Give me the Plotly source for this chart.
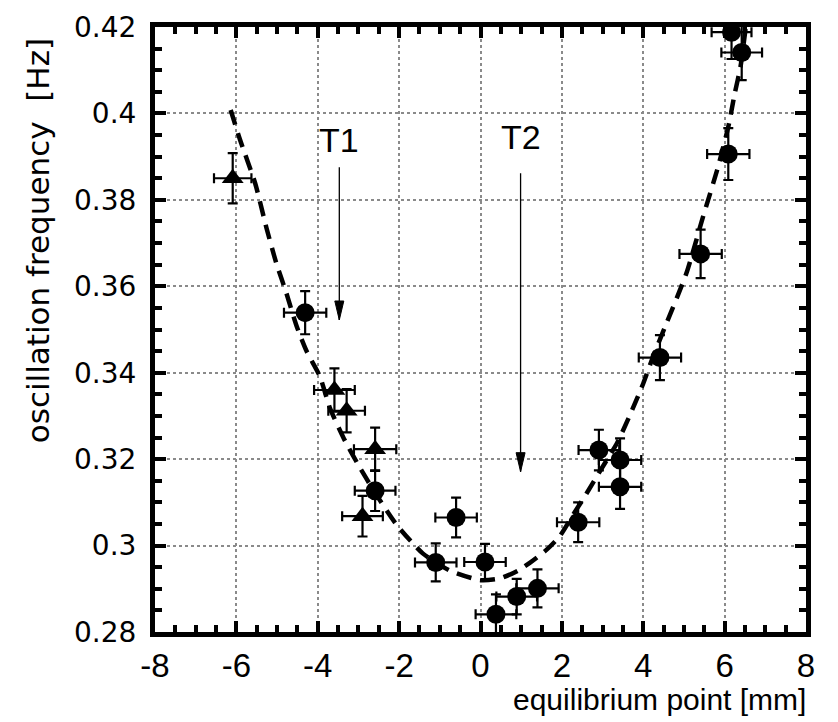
import plotly.graph_objects as go

# ---- data ----
tri_x = [-6.09, -3.59, -3.29, -2.59, -2.90]
tri_y = [0.3850, 0.3360, 0.3312, 0.3223, 0.3068]
tri_ex = [0.46, 0.50, 0.45, 0.52, 0.50]
tri_ey = [0.0058, 0.0050, 0.0050, 0.0050, 0.0047]

circ_x = [-4.31, -2.59, -0.60, -1.10, 0.11, 0.38, 0.89, 1.40, 2.40, 2.91, 3.43, 3.43, 4.41, 5.41, 6.09, 6.42, 6.17]
circ_y = [0.3539, 0.3127, 0.3065, 0.2961, 0.2962, 0.2841, 0.2882, 0.2901, 0.3054, 0.3221, 0.3198, 0.3136,
          0.3435, 0.3675, 0.3906, 0.4141, 0.4188]
circ_ex = [0.52, 0.50, 0.51, 0.51, 0.51, 0.50, 0.50, 0.52, 0.52, 0.50, 0.52, 0.52, 0.52, 0.52, 0.52, 0.50, 0.49]
circ_ey = [0.0050, 0.0047, 0.0046, 0.0044, 0.0042, 0.0046, 0.0041, 0.0044, 0.0046, 0.0047, 0.0050, 0.0051,
           0.0052, 0.0056, 0.0060, 0.0064, 0.0062]

fit_x = [-6.14, -5.91, -5.54, -5.26, -5.02, -4.77, -4.52, -4.27, -3.95, -3.70, -3.36, -3.00, -2.59, -2.06,
         -1.42, -0.75, 0.00, 0.48, 0.92, 1.21, 1.62, 1.95, 2.30, 2.61, 2.98, 3.36, 3.71, 4.00, 4.24, 4.53,
         5.06, 5.47, 5.84, 6.09, 6.25, 6.39, 6.52]
fit_y = [0.4008, 0.3939, 0.3839, 0.3735, 0.3654, 0.3584, 0.3508, 0.3449, 0.3392, 0.3318, 0.3248, 0.3186,
         0.3122, 0.3048, 0.2982, 0.2942, 0.2920, 0.2924, 0.2942, 0.2960, 0.2990, 0.3022, 0.3075, 0.3121,
         0.3179, 0.3238, 0.3310, 0.3375, 0.3437, 0.3505, 0.3630, 0.3761, 0.3877, 0.3969, 0.4047, 0.4108, 0.4200]

x_ticks = [-8, -6, -4, -2, 0, 2, 4, 6, 8]
x_tick_labels = ["-8", "-6", "-4", "-2", "0", "2", "4", "6", "8"]

arrow_labels = ["T1", "T2"]
arrow_x = [-3.47, 0.985]
arrow_tail_y = [0.3879, 0.3865]
arrow_tip_y = [0.3522, 0.3171]
label_y = [0.3938, 0.3946]

fig = go.Figure()

fig.add_trace(go.Scatter(
    x=fit_x, y=fit_y, mode="lines",
    line=dict(color="black", width=4.5, dash="15px,9px", shape="spline", smoothing=0.6),
    hoverinfo="skip", showlegend=False))

err_style = dict(type="data", color="black", thickness=2.2, width=5)

fig.add_trace(go.Scatter(
    x=tri_x, y=tri_y, mode="markers",
    marker=dict(symbol="triangle-up", size=19, color="black"),
    error_x=dict(array=tri_ex, **err_style),
    error_y=dict(array=tri_ey, **err_style),
    showlegend=False))

fig.add_trace(go.Scatter(
    x=circ_x, y=circ_y, mode="markers",
    marker=dict(symbol="circle", size=19, color="black"),
    error_x=dict(array=circ_ex, **err_style),
    error_y=dict(array=circ_ey, **err_style),
    showlegend=False))

for lab, ax_, ty, hy, ly in zip(arrow_labels, arrow_x, arrow_tail_y, arrow_tip_y, label_y):
    # shaft
    fig.add_annotation(x=ax_, y=hy, ax=ax_, ay=ty, xref="x", yref="y", axref="x", ayref="y",
                       showarrow=True, arrowhead=0, arrowwidth=1.3, arrowcolor="black", text="")
    # narrow filled arrow head, sized in pixels and anchored at the tip
    fig.add_shape(type="path", xref="x", yref="y", xsizemode="pixel", ysizemode="pixel",
                  xanchor=ax_, yanchor=hy, path="M0,0 L-4.5,19 L4.5,19 Z",
                  fillcolor="black", line=dict(color="black", width=1), layer="above")
    fig.add_annotation(x=ax_, y=ly, xref="x", yref="y", showarrow=False, text=lab,
                       font=dict(family="Liberation Sans, Arial", size=34, color="black"))

fig.add_annotation(x=-0.1797, y=0.646, xref="paper", yref="paper", showarrow=False,
                   text="oscillation frequency\u00a0 [Hz]", textangle=-90,
                   xanchor="center", yanchor="middle",
                   font=dict(family="DejaVu Sans", size=31, color="black"))
fig.add_annotation(x=1.003, y=-0.112, xref="paper", yref="paper", showarrow=False,
                   text="equilibrium point [mm]", xanchor="right", yanchor="middle",
                   font=dict(family="Liberation Sans, Arial", size=30, color="black"))

axis_common = dict(showline=True, linecolor="black", linewidth=5, mirror="ticks",
                   ticks="inside", ticklen=11, tickwidth=3.5, tickcolor="black",
                   showgrid=True, gridcolor="#8a8a8a", gridwidth=1.5, griddash="dot",
                   zeroline=False)

fig.update_xaxes(range=[-8, 8], tickvals=x_ticks, ticktext=x_tick_labels,
                 tickfont=dict(family="Liberation Sans, Arial", size=33, color="black"),
                 minor=dict(dtick=0.5, tick0=0, ticklen=7, tickwidth=3.5, tickcolor="black",
                            ticks="inside", showgrid=False),
                 **axis_common)
fig.update_yaxes(range=[0.28, 0.42], dtick=0.02, tick0=0.28,
                 tickfont=dict(family="DejaVu Sans", size=28, color="black"),
                 ticklabelstandoff=8,
                 minor=dict(dtick=0.005, tick0=0.28, ticklen=7, tickwidth=3.5, tickcolor="black",
                            ticks="inside", showgrid=False),
                 **axis_common)

fig.update_layout(width=838, height=722, margin=dict(l=155, r=32, t=27, b=90),
                  plot_bgcolor="white", paper_bgcolor="white", showlegend=False)

fig.write_html("out.html")
